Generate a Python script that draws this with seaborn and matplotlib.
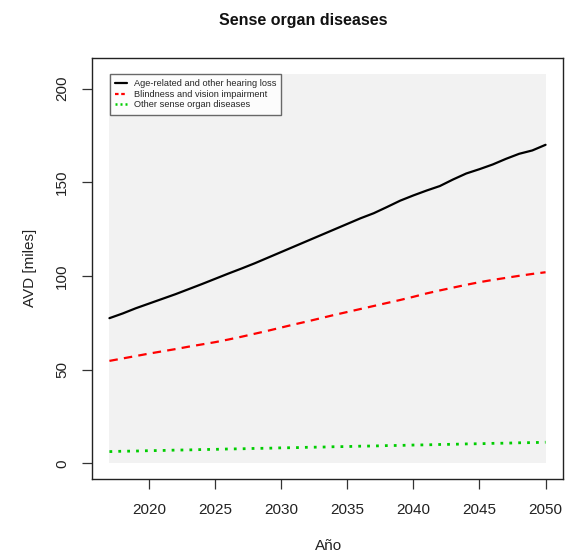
import numpy as np
import pandas as pd
import matplotlib
matplotlib.use("Agg")
import matplotlib.pyplot as plt
import seaborn as sns
from matplotlib.patches import Rectangle
from matplotlib.lines import Line2D

years = list(range(2017, 2051))
hearing = [77.5, 80.0, 82.8, 85.3, 87.8, 90.3, 93.0, 95.7, 98.5, 101.3,
           104.0, 106.8, 109.8, 112.8, 115.8, 118.8, 121.8, 124.8, 127.8, 130.8,
           133.5, 136.8, 140.2, 143.0, 145.6, 148.0, 151.5, 154.7, 157.0, 159.5,
           162.5, 165.2, 167.0, 170.0]
vision = [54.7, 56.0, 57.3, 58.6, 59.8, 61.0, 62.3, 63.5, 64.7, 66.1,
          67.6, 69.2, 70.8, 72.5, 74.2, 75.8, 77.5, 79.2, 80.8, 82.4,
          84.0, 85.6, 87.2, 88.9, 90.7, 92.3, 93.8, 95.3, 96.7, 97.9,
          99.0, 100.1, 101.1, 102.0]
other = [6.3, 6.5, 6.6, 6.8, 6.9, 7.1, 7.2, 7.4, 7.5, 7.7,
         7.8, 8.0, 8.1, 8.3, 8.4, 8.6, 8.7, 8.9, 9.0, 9.2,
         9.3, 9.5, 9.6, 9.8, 9.9, 10.1, 10.2, 10.4, 10.5, 10.7,
         10.8, 11.0, 11.1, 11.3]
series_names = ["Age-related and other hearing loss",
                "Blindness and vision impairment",
                "Other sense organ diseases"]
colors = ["#000000", "#FF0000", "#00CD00"]
xticks = [2020, 2025, 2030, 2035, 2040, 2045, 2050]
yticks = [0, 50, 100, 150, 200]
bg_top = 208

df = pd.DataFrame({
    "year": years * 3,
    "value": hearing + vision + other,
    "series": sum([[n] * len(years) for n in series_names], []),
})

sns.set_theme(style="white")
plt.rcParams["font.family"] = ["Liberation Sans", "DejaVu Sans"]

W, H = 565, 553
fig = plt.figure(figsize=(W / 100, H / 100), dpi=100)
L, R, T, B = 92, 563, 58, 479
ax = fig.add_axes([L / W, 1 - B / H, (R - L) / W, (B - T) / H])
ax.set_facecolor("white")

xr = years[-1] - years[0]
ax.set_xlim(years[0] - 0.04 * xr, years[-1] + 0.04 * xr)
ax.set_ylim(-0.04 * bg_top, bg_top * 1.04)

ax.add_patch(Rectangle((years[0], 0), years[-1] - years[0], bg_top,
                       facecolor="#F2F2F2", edgecolor="none", zorder=0))

palette = dict(zip(series_names, colors))
dashes = {series_names[0]: "", series_names[1]: (3.8, 2.8), series_names[2]: (1.0, 2.2)}
sns.lineplot(data=df, x="year", y="value", hue="series", style="series",
             palette=palette, dashes=dashes, linewidth=1.6, ax=ax, legend=False,
             zorder=2)
lines = ax.get_lines()
for ln in lines:
    ln.set_dash_capstyle("butt")
lines[2].set_linewidth(2.0)

for s in ax.spines.values():
    s.set_visible(True)
    s.set_color("#222222")
    s.set_linewidth(1.0)

ax.set_xticks(xticks)
ax.set_yticks(yticks)
ax.set_yticklabels([str(v) for v in yticks], rotation=90, va="center")
ax.tick_params(axis="both", which="both", direction="out", length=7.5, width=0.9,
               color="#333333", labelsize=11, labelcolor="#222222")
ax.tick_params(axis="x", pad=10, bottom=True)
ax.tick_params(axis="y", pad=9, left=True)

ax.set_xlabel("")
ax.set_ylabel("")
fig.text(329 / W, 1 - 546 / H, "Año", ha="center", va="center", fontsize=11, color="#222222")
fig.text(30 / W, 1 - 268 / H, "AVD [miles]", ha="center", va="center", rotation=90,
         fontsize=11, color="#222222")
fig.text(303 / W, 1 - 21 / H, "Sense organ diseases", ha="center", va="center",
         fontsize=11.5, fontweight="bold", color="#111111")

handles = [Line2D([0], [0], color=colors[0], lw=1.6),
           Line2D([0], [0], color=colors[1], lw=1.6, dashes=(1.6, 1.2)),
           Line2D([0], [0], color=colors[2], lw=1.8, dashes=(0.8, 1.2))]
leg = ax.legend(handles, series_names, loc="upper left",
                bbox_to_anchor=((110 - L) / (R - L), (B - 74) / (B - T)),
                borderaxespad=0, fontsize=6.7, frameon=True, fancybox=False,
                handlelength=1.3, handletextpad=0.7, labelspacing=0.18,
                borderpad=0.55)
leg.get_frame().set_edgecolor("#444444")
leg.get_frame().set_linewidth(1.0)
leg.get_frame().set_facecolor("white")
leg.set_zorder(5)

fig.savefig("out.png", dpi=100)
